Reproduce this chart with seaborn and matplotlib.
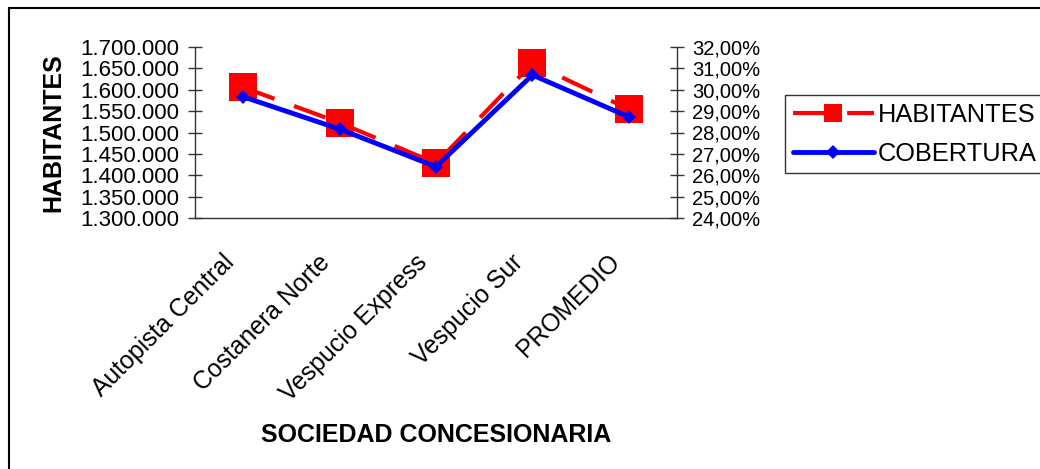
import matplotlib
matplotlib.use("Agg")
import matplotlib.pyplot as plt
import matplotlib.ticker as mticker
import matplotlib.transforms as mtransforms
from matplotlib.lines import Line2D
from matplotlib.patches import Rectangle
import seaborn as sns
import pandas as pd
import numpy as np

sns.set_style("white")
plt.rcParams["font.family"] = ["Liberation Sans", "DejaVu Sans"]
plt.rcParams["text.color"] = "black"
plt.rcParams["axes.labelcolor"] = "black"
plt.rcParams["xtick.color"] = "black"
plt.rcParams["ytick.color"] = "black"

# values
concesionarias = ["Autopista Central", "Costanera Norte", "Vespucio Express", "Vespucio Sur", "PROMEDIO"]
habitantes = [1605700, 1522900, 1428000, 1661900, 1554600]
cobertura = [29.67, 28.16, 26.40, 30.69, 28.73]

df = pd.DataFrame({"pos": np.arange(len(concesionarias)),
                   "sociedad": concesionarias,
                   "HABITANTES": habitantes,
                   "COBERTURA": cobertura})

fig = plt.figure(figsize=(10.4, 4.69), dpi=100)
ax = fig.add_axes([195 / 1040, 1 - 218 / 469, (677 - 195) / 1040, (218 - 47) / 469])
ax2 = ax.twinx()

red = "#ff0000"
blue = "#0000ff"

sns.lineplot(data=df, x="pos", y="HABITANTES", ax=ax, color=red, lw=3, marker="s",
             markersize=20, markeredgewidth=0, legend=False)
ax.lines[0].set_dashes([8, 5])
sns.lineplot(data=df, x="pos", y="COBERTURA", ax=ax2, color=blue, lw=3.5, marker="D",
             markersize=7, markeredgewidth=0, legend=False)

ax.set_xlim(-0.5, len(concesionarias) - 0.5)
ax.set_ylim(1300000, 1700000)
ax2.set_ylim(24, 32)
ax.yaxis.set_major_locator(mticker.MultipleLocator(50000))
ax2.yaxis.set_major_locator(mticker.MultipleLocator(1))
ax.yaxis.set_major_formatter(mticker.FuncFormatter(lambda v, p: f"{v:,.0f}".replace(",", ".")))
ax2.yaxis.set_major_formatter(mticker.FuncFormatter(lambda v, p: f"{v:.2f}".replace(".", ",") + "%"))

# category boundaries as ticks, names centred between them
ax.set_xticks(np.arange(len(concesionarias) + 1) - 0.5)
ax.set_xticklabels([])
ax.set_xticks(df["pos"], minor=True)
ax.set_xticklabels(concesionarias, minor=True, rotation=45, ha="right", va="center",
                   rotation_mode="anchor", fontsize=17.8)
ax.tick_params(axis="x", which="minor", length=0, pad=22)
shift = mtransforms.ScaledTranslation(-0.13, -0.10, fig.dpi_scale_trans)
for lbl in ax.get_xticklabels(minor=True):
    lbl.set_transform(lbl.get_transform() + shift)
ax.tick_params(axis="x", which="major", direction="inout", length=16, width=1, color="#333333")
ax.tick_params(axis="y", direction="inout", length=10, width=1, color="#333333", labelsize=16, pad=6)
ax2.tick_params(axis="y", direction="inout", length=10, width=1, color="#333333", labelsize=14.5, pad=6)

for a in (ax, ax2):
    a.spines["top"].set_visible(False)
    for s in ("left", "right", "bottom"):
        a.spines[s].set_color("#333333")
        a.spines[s].set_linewidth(1)
ax.spines["right"].set_visible(False)
ax2.spines["left"].set_visible(False)
ax2.spines["bottom"].set_visible(False)
ax.set_zorder(ax2.get_zorder() - 1)
ax2.patch.set_visible(False)

ax.set_ylabel("HABITANTES", fontsize=18, fontweight="bold")
ax.yaxis.set_label_coords(-0.268, 0.5)
ax2.set_ylabel("")
ax.set_xlabel("SOCIEDAD CONCESIONARIA", fontsize=18, fontweight="bold")
ax.xaxis.set_label_coords(0.5, -1.2)

handles = [Line2D([], [], color=red, lw=3, dashes=[8, 5], marker="s", markersize=12.5, markeredgewidth=0),
           Line2D([], [], color=blue, lw=3.5, marker="D", markersize=7, markeredgewidth=0)]
leg = fig.legend(handles, ["HABITANTES", "COBERTURA"], loc="upper left",
                 bbox_to_anchor=(785 / 1040, 1 - 95 / 469), fontsize=18.3, frameon=True,
                 fancybox=False, edgecolor="black", handlelength=3.2, handletextpad=0.15,
                 labelspacing=0.6, borderpad=0.3, borderaxespad=0)
leg.get_frame().set_linewidth(1)

# outer chart frame
fig.patches.append(Rectangle((9 / 1040, -0.2), 1.2, 1 - 8 / 469 + 0.2, transform=fig.transFigure,
                             fill=False, edgecolor="black", lw=1.5))

fig.savefig("out.png", dpi=100)
